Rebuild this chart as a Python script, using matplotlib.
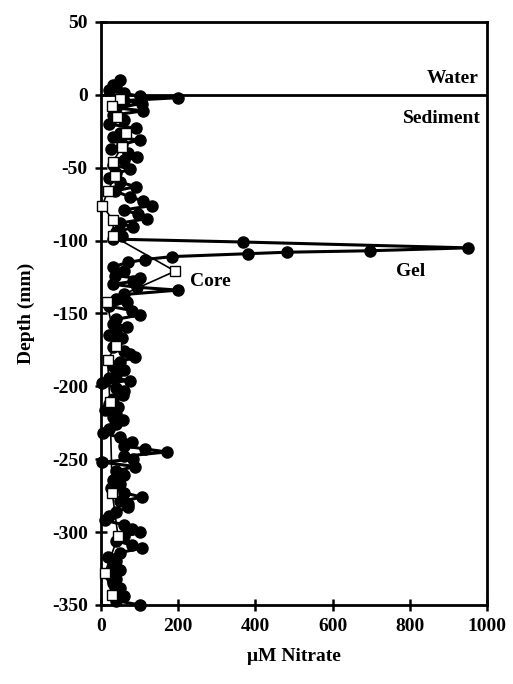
import matplotlib
matplotlib.use('Agg')
import matplotlib.pyplot as plt

# gel profile (filled circles): depth in mm, nitrate in uM
gel_depth = [10, 7, 5, 3, 1, -1, -2, -4, -6, -9, -11, -14, -17, -20, -23, -26, -29, -31,
             -34, -37, -40, -43, -45, -48, -51, -54, -57, -60, -63, -66, -70, -73, -76,
             -79, -82, -85, -88, -91, -94, -97, -99, -101, -105, -107, -108, -109, -111,
             -113, -115, -118, -121, -124, -126, -128, -130, -132, -134, -137, -140, -142,
             -145, -148, -151, -154, -157, -159, -162, -165, -167, -170, -173, -176, -178,
             -180, -183, -186, -189, -192, -194, -196, -198, -201, -203, -206, -209, -212,
             -214, -216, -219, -221, -223, -226, -229, -232, -235, -238, -241, -243, -245,
             -248, -250, -252, -255, -258, -261, -264, -267, -270, -273, -276, -279, -281,
             -283, -286, -289, -292, -295, -298, -300, -303, -306, -309, -311, -314, -317,
             -320, -323, -326, -329, -332, -335, -338, -341, -344, -347, -350]
gel_no3 = [50, 30, 40, 20, 60, 100, 200, 60, 105, 40, 110, 30, 60, 20, 90, 50, 30, 100,
           55, 25, 70, 92, 60, 30, 75, 40, 20, 50, 90, 35, 75, 110, 131,
           60, 95, 118, 50, 83, 40, 55, 30, 368, 950, 697, 482, 381, 184,
           114, 70, 30, 60, 36, 100, 83, 31, 92, 200, 60, 40, 66,
           20, 80, 101, 40, 30, 66, 40, 20, 54, 40, 30, 60, 75,
           88, 50, 30, 60, 40, 20, 75, 2, 40, 60, 57, 30, 20,
           45, 10, 40, 30, 57, 40, 20, 5, 49, 80, 60, 114, 170,
           60, 83, 2, 88, 40, 60, 30, 50, 25, 60, 105, 50, 70,
           70, 40, 20, 10, 60, 80, 101, 60, 40, 80, 105, 50, 18,
           40, 30, 50, 20, 40, 30, 50, 35, 60, 40, 100]

# core profile (open squares)
core_depth = [-3, -8, -15, -26, -36, -46, -56, -66, -76, -86, -97, -121, -142,
              -172, -182, -211, -273, -303, -328, -343]
core_no3 = [50, 28, 42, 65, 53, 31, 35, 18, 3, 31, 32, 192, 15,
            38, 17, 23, 29, 44, 10, 29]

plt.rcParams['font.family'] = ['Liberation Serif', 'DejaVu Serif']
plt.rcParams['font.weight'] = 'bold'
plt.rcParams['axes.unicode_minus'] = False

fig = plt.figure(figsize=(5.13, 6.84), dpi=100)
ax = fig.add_axes([0.197, 0.1155, 0.752, 0.8525])

ax.plot(gel_no3, gel_depth, '-o', color='black', lw=2.2, ms=8, clip_on=False, zorder=3)
ax.plot(core_no3, core_depth, '-s', color='black', mfc='white', mec='black', mew=1.0,
        lw=1.2, ms=6.5, clip_on=False, zorder=4)

# sediment-water interface
ax.axhline(0, color='black', lw=2, zorder=2)

ax.set_xlim(0, 1000)
ax.set_ylim(-350, 50)
ax.set_xticks(range(0, 1001, 200))
ax.set_yticks(range(-350, 51, 50))
ax.tick_params(direction='inout', length=9, width=1.8, labelsize=14, pad=5)
for s in ax.spines.values():
    s.set_linewidth(2)

ax.set_xlabel('μM Nitrate', fontsize=14, fontweight='bold', labelpad=9)
ax.set_ylabel('Depth (mm)', fontsize=14, fontweight='bold', labelpad=12)

ax.text(912, 11, 'Water', ha='center', va='center', fontsize=14, fontweight='bold')
ax.text(883, -16, 'Sediment', ha='center', va='center', fontsize=14, fontweight='bold')
ax.text(803, -121, 'Gel', ha='center', va='center', fontsize=14, fontweight='bold')
ax.text(230, -128, 'Core', ha='left', va='center', fontsize=14, fontweight='bold')

fig.savefig('out.png', dpi=100)
